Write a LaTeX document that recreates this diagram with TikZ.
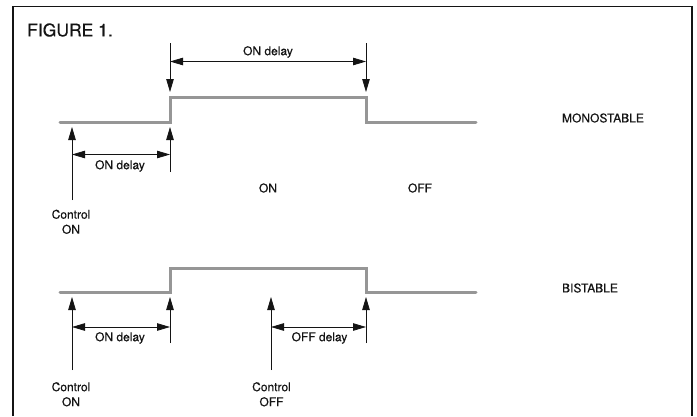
\documentclass[tikz,border=0pt]{standalone}
\usepackage{fontspec}
\setmainfont{TeX Gyre Heros}
\newfontfamily\heavyfont[FakeBold=0.4]{TeX Gyre Heros}
\usetikzlibrary{arrows.meta}
\definecolor{sig}{HTML}{969696}
\definecolor{ink}{HTML}{141414}
\begin{document}
\begin{tikzpicture}[x=1pt,y=-1pt,
  lbl/.style={font=\heavyfont\fontsize{12}{13}\selectfont, text=ink, inner sep=0pt, align=center},
  title/.style={font=\heavyfont\fontsize{17.5}{18}\selectfont, text=ink, inner sep=0pt},
  signal/.style={draw=sig, line width=3pt, line join=miter, line cap=round},
  dim/.style={draw=ink, line width=0.8pt, {Triangle[length=13pt,width=7.5pt]}-{Triangle[length=13pt,width=7.5pt]}},
  pointer/.style={draw=ink, line width=0.8pt, -{Triangle[length=13pt,width=7.5pt]}},
  frame/.style={draw=ink, line width=1.2pt}]
\useasboundingbox (0,0) rectangle (697,416);
\fill[white] (0,0) rectangle (697,416);
% frame
\draw[frame] (13,416) -- (13,6.5) -- (692,6.5) -- (692,416);
\node[title, anchor=west] (fig) at (27,30) {FIGURE 1.};

% ---------- MONOSTABLE ----------
\coordinate (m0) at (60,122);
\coordinate (m1) at (170,122);
\coordinate (m2) at (170,97);
\coordinate (m3) at (366,97);
\coordinate (m4) at (366,122);
\coordinate (m5) at (476,122);
\draw[signal] (m0) -- (m1) -- (m2) -- (m3) -- (m4) -- (m5);

% top ON delay
\coordinate (ta) at (170,43);
\coordinate (tat) at (170,92);
\coordinate (tb) at (366,43);
\coordinate (tbt) at (366,92);
\draw[pointer] (ta) -- (tat);
\draw[pointer] (tb) -- (tbt);
\coordinate (tl) at (170,61.5);
\coordinate (tr) at (366,61.5);
\draw[dim] (tl) -- (tr);
\node[lbl] (tonlbl) at (268,52) {ON delay};

% lower ON delay (mono)
\coordinate (ma) at (72,200);
\coordinate (mat) at (72,127);
\coordinate (mb) at (170,172);
\coordinate (mbt) at (170,127);
\draw[pointer] (ma) -- (mat);
\draw[pointer] (mb) -- (mbt);
\coordinate (ml) at (72,154.5);
\coordinate (mr) at (170,154.5);
\draw[dim] (ml) -- (mr);
\node[lbl] (monlbl) at (120,166) {ON delay};

\node[lbl] (on) at (268,188) {ON};
\node[lbl] (off) at (420,188) {OFF};
\node[lbl] (mono) at (603,118) {MONOSTABLE};
\node[lbl, anchor=north] (cton1) at (71,209.5) {Control\\[2pt]ON};

% ---------- BISTABLE ----------
\coordinate (b0) at (60,292);
\coordinate (b1) at (170,292);
\coordinate (b2) at (170,268);
\coordinate (b3) at (366,268);
\coordinate (b4) at (366,292);
\coordinate (b5) at (476,292);
\draw[signal] (b0) -- (b1) -- (b2) -- (b3) -- (b4) -- (b5);

\coordinate (ba) at (72,370);
\coordinate (bat) at (72,297);
\coordinate (bb) at (170,343);
\coordinate (bbt) at (170,297);
\coordinate (bc) at (271,370);
\coordinate (bct) at (271,297);
\coordinate (bd) at (366,343);
\coordinate (bdt) at (366,297);
\draw[pointer] (ba) -- (bat);
\draw[pointer] (bb) -- (bbt);
\draw[pointer] (bc) -- (bct);
\draw[pointer] (bd) -- (bdt);
\coordinate (bl1) at (72,327);
\coordinate (br1) at (170,327);
\draw[dim] (bl1) -- (br1);
\coordinate (bl2) at (271,327);
\coordinate (br2) at (366,327);
\draw[dim] (bl2) -- (br2);
\node[lbl] (bonlbl) at (120,338) {ON delay};
\node[lbl] (bofflbl) at (319.5,338) {OFF delay};

\node[lbl] (bist) at (590,288) {BISTABLE};
\node[lbl, anchor=north] (cton2) at (71,382) {Control\\[2pt]ON};
\node[lbl, anchor=north] (ctoff) at (271.5,382) {Control\\[2pt]OFF};
\end{tikzpicture}
\end{document}
